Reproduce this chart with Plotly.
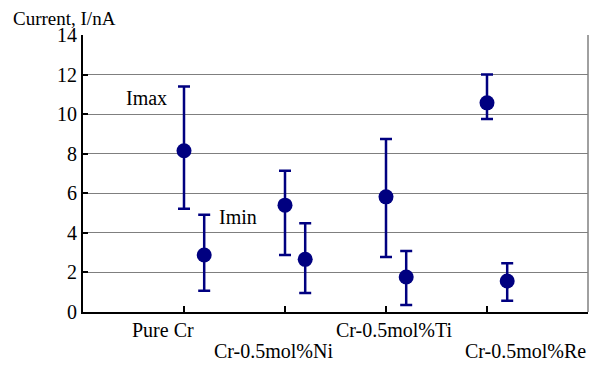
import plotly.graph_objects as go

categories = ["Pure Cr", "Cr-0.5mol%Ni", "Cr-0.5mol%Ti", "Cr-0.5mol%Re"]
cat_pos = [1, 2, 3, 4]
imin_offset = 0.2

imax_mean = [8.15, 5.40, 5.82, 10.57]
imax_upper = [11.40, 7.14, 8.74, 12.00]
imax_lower = [5.22, 2.88, 2.78, 9.75]

imin_mean = [2.88, 2.66, 1.77, 1.57]
imin_upper = [4.91, 4.49, 3.08, 2.47]
imin_lower = [1.08, 0.96, 0.35, 0.57]

y_ticks = [0, 2, 4, 6, 8, 10, 12, 14]

NAVY = "#000080"
FONT = "Liberation Serif, Times New Roman, serif"

fig = go.Figure()


def add_series(xs, mean, upper, lower, name):
    fig.add_trace(go.Scatter(
        x=xs, y=mean, mode="markers", name=name,
        marker=dict(color=NAVY, size=15, symbol="circle"),
        error_y=dict(type="data", symmetric=False,
                     array=[u - m for u, m in zip(upper, mean)],
                     arrayminus=[m - l for m, l in zip(mean, lower)],
                     color=NAVY, thickness=2.5, width=6),
        showlegend=False,
    ))


add_series(cat_pos, imax_mean, imax_upper, imax_lower, "Imax")
add_series([p + imin_offset for p in cat_pos], imin_mean, imin_upper, imin_lower, "Imin")

# series labels
fig.add_annotation(x=0.63, y=10.8, xref="x", yref="y", text="Imax", showarrow=False,
                   font=dict(family=FONT, size=20, color="black"))
fig.add_annotation(x=1.53, y=4.8, xref="x", yref="y", text="Imin", showarrow=False,
                   font=dict(family=FONT, size=20, color="black"))

# category labels (staggered)
label_x = [0.79, 1.89, 3.08, 4.38]
label_y = [-0.065, -0.141, -0.065, -0.141]
for c, lx, ly in zip(categories, label_x, label_y):
    fig.add_annotation(x=lx, y=ly, xref="x", yref="paper", text=c, showarrow=False,
                       xanchor="center", yanchor="middle",
                       font=dict(family=FONT, size=20, color="black"))

# axis title
fig.add_annotation(x=-0.143, y=1.06, xref="paper", yref="paper", text="Current, I/nA",
                   showarrow=False, xanchor="left", yanchor="middle",
                   font=dict(family=FONT, size=19, color="black"))

# right border
fig.add_shape(type="line", x0=1, x1=1, y0=0, y1=1, xref="paper", yref="paper",
              line=dict(color="#808080", width=1.5))

fig.update_layout(
    width=598, height=365,
    margin=dict(l=83, r=10, t=35, b=53, autoexpand=False),
    paper_bgcolor="white", plot_bgcolor="white",
    font=dict(family=FONT, size=20, color="black"),
    xaxis=dict(range=[0, 5], tickvals=cat_pos, ticktext=[""] * 4,
               ticks="inside", ticklen=6, tickwidth=1.5, tickcolor="black",
               showgrid=False, showline=True, linecolor="black", linewidth=2,
               zeroline=False),
    yaxis=dict(range=[0, 14], tickvals=y_ticks, showticklabels=True,
               ticks="inside", ticklen=5, tickwidth=1.5, tickcolor="black",
               showgrid=True, gridcolor="#7f7f7f", gridwidth=1,
               showline=True, linecolor="black", linewidth=2,
               zeroline=False, automargin=False,
               ticksuffix="\u00a0\u00a0",
               tickfont=dict(family=FONT, size=20, color="black")),
)

fig.write_html("out.html", config={"displayModeBar": False},
               post_script="document.body.style.margin='0';document.body.style.overflow='hidden';")
